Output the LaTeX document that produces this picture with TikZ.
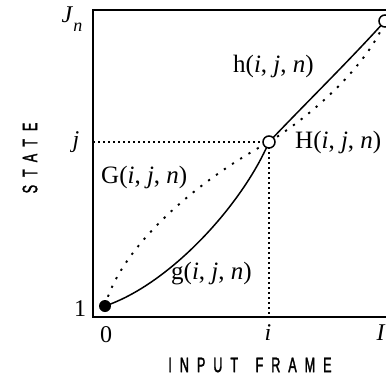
\documentclass[tikz,border=0pt]{standalone}
\usepackage{fontspec}
\setmainfont{Liberation Serif}
\newfontfamily\axfont[FakeStretch=0.6,LetterSpace=38,FakeBold=1.5]{Liberation Sans}
\begin{document}
\begin{tikzpicture}[x=1pt,y=-1pt,
  axis/.style={line width=1.6pt},
  curve/.style={line width=1.5pt},
  dotcurve/.style={line width=1.9pt,dash pattern=on 2.2pt off 7.5pt},
  guide/.style={line width=1.5pt,dash pattern=on 2pt off 3pt},
  lbl/.style={font=\fontsize{25}{27}\selectfont,inner sep=0pt},
  tick/.style={font=\fontsize{24}{26}\selectfont,inner sep=0pt},
  axtitle/.style={font=\axfont\fontsize{21}{23}\selectfont,inner sep=0pt}]
\useasboundingbox (0,0) rectangle (386,381);
\clip (0,0) rectangle (386,381);
% axes
\coordinate (tl) at (93,10);
\coordinate (tr) at (400,10);
\coordinate (bl) at (93,317);
\coordinate (br) at (400,317);
\draw[axis] (tr) -- (tl) -- (bl) -- (br);
% points
\coordinate (p0) at (105,306);
\coordinate (pm) at (269,142);
\coordinate (pe) at (385,21);
\coordinate (jl) at (93,142);
\coordinate (ib) at (269,317);
% guides
\draw[guide] (jl) -- (pm);
\draw[guide] (pm) -- (ib);
% curves
\draw[curve] (p0) .. controls (170,284) and (242,205) .. (pm);
\draw[curve] (pm) .. controls (300,109) and (350,60) .. (pe);
\draw[dotcurve] (p0) .. controls (120,250) and (190,185) .. (pm);
\draw[dotcurve] (pm) .. controls (320,110) and (370,60) .. (pe);
% markers
\node[circle,fill=black,minimum size=12pt,inner sep=0pt] (m0) at (p0) {};
\node[circle,draw=black,fill=white,line width=1.5pt,minimum size=12pt,inner sep=0pt] (mm) at (pm) {};
\node[circle,draw=black,fill=white,line width=1.5pt,minimum size=12pt,inner sep=0pt] (me) at (pe) {};
% tick labels
\node[tick] (Jn) at (72,19) {\textit{J}\raisebox{-0.35em}{\fontsize{18}{19}\selectfont\textit{n}}};
\node[tick] (jt) at (76,142) {\textit{j}};
\node[tick] (one) at (80,309) {1};
\node[tick] (zero) at (106,335) {0};
\node[tick] (it) at (268,333) {\textit{i}};
\node[tick] (It) at (381,333) {\textit{I}};
% curve labels
\node[lbl,anchor=west] (h) at (233,66) {h(\textit{i}, \textit{j}, \textit{n})};
\node[lbl,anchor=west] (H) at (295,142) {H(\textit{i}, \textit{j}, \textit{n})};
\node[lbl,anchor=west] (G) at (101,177) {G(\textit{i}, \textit{j}, \textit{n})};
\node[lbl,anchor=west] (g) at (171,274) {g(\textit{i}, \textit{j}, \textit{n})};
% axis titles
\node[axtitle,rotate=90] (state) at (30,158) {STATE};
\node[axtitle] (frame) at (250,365) {INPUT\hspace{6pt} FRAME};
\end{tikzpicture}
\end{document}
